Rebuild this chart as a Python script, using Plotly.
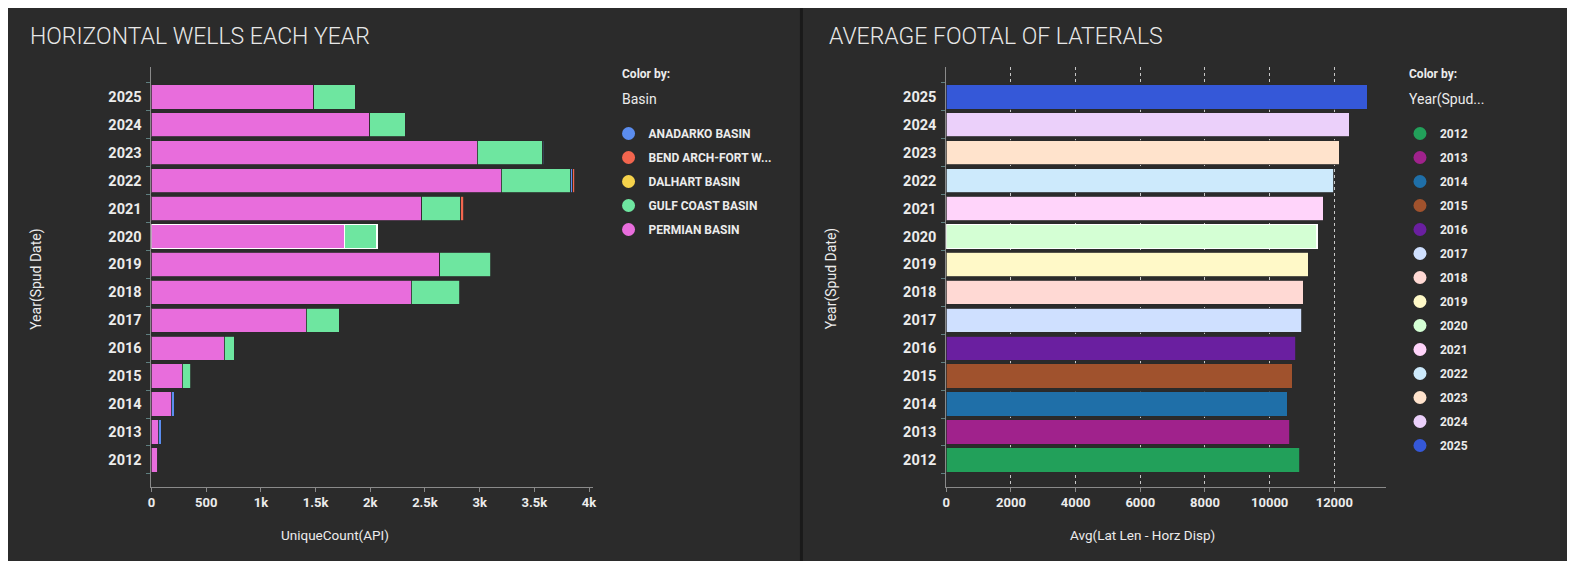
import plotly.graph_objects as go

# The page body has an 8px margin; the figure is sized to fill the rest of the window.
OX, OY = 8, 8
FW, FH = 1575 - OX, 561 - OY

years = list(range(2012, 2026))

# Left chart: UniqueCount(API) by basin
permian = [55, 60, 182, 279, 667, 1415, 2373, 2636, 1765, 2470, 3197, 2976, 1994, 1485]
gulf_coast = [0, 0, 0, 79, 91, 303, 445, 464, 296, 357, 636, 600, 324, 379]
anadarko = [5, 28, 24, 0, 0, 0, 0, 0, 0, 0, 18, 9, 0, 0]
bend_arch = [0, 0, 0, 0, 0, 0, 0, 0, 0, 28, 18, 0, 0, 0]
dalhart = [0] * 14

basin_names = ["ANADARKO BASIN", "BEND ARCH-FORT W...", "DALHART BASIN", "GULF COAST BASIN", "PERMIAN BASIN"]
basin_colors = ["#5b8def", "#f2654e", "#f5d24b", "#6ee6a0", "#e86ddc"]

left_xticks = [0, 500, 1000, 1500, 2000, 2500, 3000, 3500, 4000]
left_xticktext = ["0", "500", "1k", "1.5k", "2k", "2.5k", "3k", "3.5k", "4k"]

# Right chart: Avg(Lat Len - Horz Disp)
avg_lateral = [10935, 10625, 10542, 10697, 10800, 10997, 11038, 11193, 11462, 11657, 11977, 12153, 12463, 13011]
year_colors = ["#22a05a", "#a0228c", "#1f6fa8", "#a0522d", "#6a1fa0", "#cfe0ff", "#ffd9d4",
               "#fff9c8", "#d4ffd4", "#ffd4fa", "#cdeafc", "#ffe3cc", "#ebd0fa", "#3558d8"]
right_xticks = [0, 2000, 4000, 6000, 8000, 10000, 12000]

selected_year = 2020

BG = "#2b2b2b"
AXIS = "#8a8a8a"
TXT = "#ececec"


def px_x(p):
    return (p - OX) / FW


def px_y(p):
    return (FH - (p - OY)) / FH


def nz(arr):
    return [v if v else None for v in arr]


line_w = [1.6 if y == selected_year else 0.8 for y in years]
line_c = ["#ffffff" if y == selected_year else BG for y in years]

fig = go.Figure()

stack = [("PERMIAN BASIN", permian, basin_colors[4]),
         ("GULF COAST BASIN", gulf_coast, basin_colors[3]),
         ("ANADARKO BASIN", anadarko, basin_colors[0]),
         ("BEND ARCH-FORT W...", bend_arch, basin_colors[1]),
         ("DALHART BASIN", dalhart, basin_colors[2])]
for name, vals, col in stack:
    fig.add_trace(go.Bar(
        x=nz(vals), y=years, orientation="h", name=name,
        marker=dict(color=col, line=dict(color=line_c, width=line_w)),
        showlegend=False, xaxis="x", yaxis="y"))

for i, (name, col) in enumerate(zip(basin_names, basin_colors)):
    fig.add_trace(go.Scatter(
        x=[None], y=[None], mode="markers", name=name,
        marker=dict(color=col, size=13, symbol="circle"),
        legend="legend", legendgroup="b%d" % i, xaxis="x", yaxis="y"))

fig.add_trace(go.Bar(
    x=avg_lateral, y=years, orientation="h", name="Avg",
    marker=dict(color=year_colors, line=dict(color=line_c, width=line_w)),
    showlegend=False, xaxis="x2", yaxis="y2"))

for i, (yr, col) in enumerate(zip(years, year_colors)):
    fig.add_trace(go.Scatter(
        x=[None], y=[None], mode="markers", name=str(yr),
        marker=dict(color=col, size=13, symbol="circle"),
        legend="legend2", legendgroup="y%d" % i, xaxis="x2", yaxis="y2"))

yrange = [2011.04, 2026.07]
minor_vals = [y - 0.5 for y in years] + [years[-1] + 0.5]

common_y = dict(
    range=yrange, tickmode="array", tickvals=years, ticktext=[str(y) for y in years],
    ticks="", showgrid=False, zeroline=False, showline=True, linecolor=AXIS, linewidth=1,
    tickfont=dict(family="Roboto", size=14.5, color=TXT, weight="bold"),
    ticklabelstandoff=6,
    minor=dict(tickmode="array", tickvals=minor_vals, ticks="outside", ticklen=4,
               tickcolor="#5f7f80", tickwidth=1, showgrid=False),
)

fig.update_layout(
    width=FW, height=FH,
    paper_bgcolor=BG, plot_bgcolor=BG,
    margin=dict(l=0, r=0, t=0, b=0),
    barmode="stack", bargap=0.13,
    xaxis=dict(domain=[px_x(148.3), px_x(592)], range=[0, 4033], anchor="y",
               tickmode="array", tickvals=left_xticks, ticktext=left_xticktext,
               ticks="outside", ticklen=4, tickcolor=AXIS, showgrid=False, zeroline=False,
               showline=True, linecolor=AXIS, linewidth=1,
               tickfont=dict(family="Roboto", size=13, color=TXT, weight="bold")),
    yaxis=dict(domain=[px_y(486.7), px_y(67)], anchor="x", **common_y),
    xaxis2=dict(domain=[px_x(947.7), px_x(1390)], range=[0, 13600], anchor="y2",
                tickmode="array", tickvals=right_xticks, ticktext=[str(v) for v in right_xticks],
                ticks="outside", ticklen=4, tickcolor=AXIS,
                showgrid=True, gridcolor="#c8c8c8", griddash="dot", gridwidth=1, zeroline=False,
                showline=True, linecolor=AXIS, linewidth=1,
                tickfont=dict(family="Roboto", size=13, color=TXT, weight="bold")),
    yaxis2=dict(domain=[px_y(486.7), px_y(67)], anchor="x2", **common_y),
    legend=dict(x=px_x(608), y=px_y(119), xanchor="left", yanchor="top",
                bgcolor="rgba(0,0,0,0)", borderwidth=0, tracegroupgap=5,
                font=dict(family="Roboto", size=12, color=TXT, weight="bold"),
                itemclick=False, itemdoubleclick=False),
    legend2=dict(x=px_x(1404), y=px_y(119), xanchor="left", yanchor="top",
                 bgcolor="rgba(0,0,0,0)", borderwidth=0, tracegroupgap=5,
                 font=dict(family="Roboto", size=12, color=TXT, weight="bold"),
                 itemclick=False, itemdoubleclick=False),
    shapes=[
        dict(type="rect", xref="paper", yref="paper", x0=px_x(800.5), x1=px_x(803.5), y0=0, y1=1,
             fillcolor="#1a1a1a", line=dict(width=0), layer="below"),
    ],
)

ann = []


def add_text(text, x, y, size, xanchor="left", weight="normal", angle=0, color=TXT):
    ann.append(dict(text=text, x=px_x(x), y=px_y(y), xref="paper", yref="paper",
                    xanchor=xanchor, yanchor="middle", showarrow=False, textangle=angle,
                    font=dict(family="Roboto", size=size, color=color, weight=weight)))


add_text("HORIZONTAL WELLS EACH YEAR", 24, 37, 23, weight=300, color="#e8e8e8")
add_text("AVERAGE FOOTAL OF LATERALS", 828, 37, 23, weight=300, color="#e8e8e8")
add_text("Color by:", 620, 74, 12, weight="bold")
add_text("Basin", 620, 99, 14)
add_text("Color by:", 1411, 74, 12, weight="bold")
add_text("Year(Spud...", 1411, 99, 14)
add_text("Year(Spud Date)", 32, 279, 14, xanchor="center", angle=-90)
add_text("Year(Spud Date)", 832, 279, 14, xanchor="center", angle=-90)
add_text("UniqueCount(API)", 333, 535, 13.5, xanchor="center")
add_text("Avg(Lat Len - Horz Disp)", 1145, 535, 13.5, xanchor="center")
fig.update_layout(annotations=ann)

fig.write_html("out.html")
